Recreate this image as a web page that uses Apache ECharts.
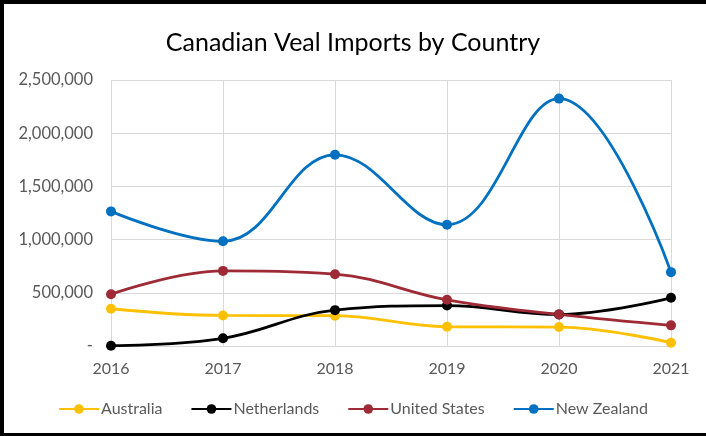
<!DOCTYPE html>
<html>
<head>
<meta charset="utf-8">
<script src="https://cdn.jsdelivr.net/npm/echarts@6/dist/echarts.min.js"></script>
<style>
html,body{margin:0;padding:0;background:#fff;}
#frame{position:absolute;left:0;top:0;width:706px;height:436px;box-sizing:border-box;border-left:4px solid #000;border-top:4px solid #000;border-bottom:3px solid #000;}
#chart{position:absolute;left:0;top:0;width:706px;height:436px;}
</style>
</head>
<body>
<div id="chart"></div>
<div id="frame"></div>
<script>
const years = ['2016','2017','2018','2019','2020','2021'];
const australia = [350000, 287000, 285000, 181000, 178000, 31000];
const netherlands = [3000, 72000, 337000, 380000, 297000, 453000];
const unitedStates = [487000, 706000, 675000, 434000, 297000, 194000];
const newZealand = [1265000, 984000, 1797000, 1140000, 2325000, 694000];
const seriesNames = ['Australia','Netherlands','United States','New Zealand'];
const colors = ['#FFC000','#000000','#9E2A36','#0070C0'];

const chart = echarts.init(document.getElementById('chart'));
const font = 'Lato, "Open Sans", sans-serif';
function mk(name, data, color){
  return {
    name, type:'line', data, smooth:0.4, symbol:'circle', symbolSize:10,
    lineStyle:{color, width:2.8}, itemStyle:{color}, emphasis:{disabled:true}
  };
}
chart.setOption({
  animation:false,
  title:{text:'Canadian Veal Imports by Country', left:'center', top:25,
    textStyle:{fontFamily:font, fontSize:25, fontWeight:'normal', color:'#000'}},
  grid:{left:111, right:35, top:80, bottom:90},
  legend:{bottom:14, left:'center', itemWidth:40, itemHeight:12, itemGap:28,
    textStyle:{fontFamily:font, fontSize:16, color:'#595959', padding:[0,0,0,-3]}, data:seriesNames},
  xAxis:{type:'category', data:years, boundaryGap:false,
    axisLine:{show:false}, axisTick:{show:false},
    splitLine:{show:true, lineStyle:{color:'#d9d9d9', width:1}},
    axisLabel:{fontFamily:font, fontSize:16, color:'#595959', margin:15}},
  yAxis:{type:'value', min:0, max:2500000, interval:500000,
    axisLine:{show:false}, axisTick:{show:false},
    splitLine:{lineStyle:{color:'#d9d9d9', width:1}},
    axisLabel:{fontFamily:font, fontSize:16.5, color:'#595959', margin:18,
      formatter:v => v===0 ? '-' : v.toLocaleString('en-US')}},
  series:[
    mk(seriesNames[0], australia, colors[0]),
    mk(seriesNames[1], netherlands, colors[1]),
    mk(seriesNames[2], unitedStates, colors[2]),
    mk(seriesNames[3], newZealand, colors[3])
  ]
});
</script>
</body>
</html>
